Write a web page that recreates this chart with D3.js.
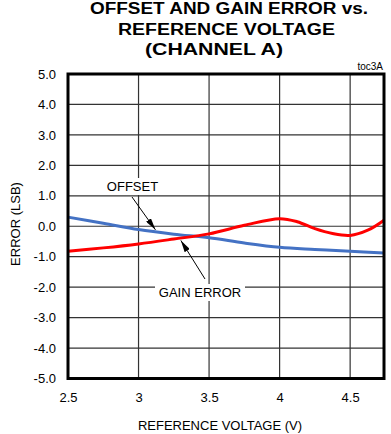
<!DOCTYPE html>
<html><head><meta charset="utf-8">
<script src="https://cdn.jsdelivr.net/npm/d3@7"></script>
<style>
html,body{margin:0;padding:0;background:#fff;}
svg{display:block;}
text{font-family:"Liberation Sans",Arial,sans-serif;fill:#000;}
</style></head>
<body><svg id="c" width="391" height="434"></svg>
<script>
const titleLines = ["OFFSET AND GAIN ERROR vs.", "REFERENCE VOLTAGE", "(CHANNEL A)"];
const xLabel = "REFERENCE VOLTAGE (V)";
const yLabel = "ERROR (LSB)";
const tag = "toc3A";
const xTicks = [2.5, 3, 3.5, 4, 4.5];
const yTicks = [-5, -4, -3, -2, -1, 0, 1, 2, 3, 4, 5];
const offsetV = [2.5, 2.75, 3.0, 3.25, 3.5, 3.75, 4.0, 4.25, 4.5, 4.74];
const offsetE = [0.30, 0.10, -0.11, -0.26, -0.38, -0.55, -0.69, -0.76, -0.82, -0.88];
const gainV = [2.5, 2.75, 3.0, 3.25, 3.5, 3.75, 4.0, 4.125, 4.25, 4.375, 4.5, 4.625, 4.74];
const gainE = [-0.82, -0.71, -0.58, -0.42, -0.25, 0.03, 0.25, 0.15, -0.08, -0.24, -0.30, -0.13, 0.20];

const svg = d3.select("#c");
const L = 68, R = 384, T = 74, B = 378.5;
const x = d3.scaleLinear().domain([2.5, 4.74]).range([L, R]);
const y = d3.scaleLinear().domain([-5, 5]).range([B, T]);

// title (horizontally stretched as in the reference)
const titleX = [90, 118, 145], titleW = [278, 217, 138];
svg.append("g").selectAll("text").data(titleLines).join("text")
  .attr("x", (d,i) => titleX[i])
  .attr("y", (d,i) => 14 + i*20.7)
  .attr("text-anchor", "start")
  .attr("font-weight", "bold").attr("font-size", "16px")
  .attr("textLength", (d,i) => titleW[i]).attr("lengthAdjust", "spacingAndGlyphs")
  .text(d => d);

// grid
const g = svg.append("g");
g.selectAll("line.h").data(yTicks.filter(d => d > -5 && d < 5)).join("line")
  .attr("x1", L).attr("x2", R).attr("y1", d => y(d)).attr("y2", d => y(d))
  .attr("stroke", "#333").attr("stroke-width", 1.2);
g.selectAll("line.v").data(xTicks.filter(d => d > 2.5)).join("line")
  .attr("y1", T).attr("y2", B).attr("x1", d => x(d)).attr("x2", d => x(d))
  .attr("stroke", "#333").attr("stroke-width", 1.2);

const fmtY = d => d3.format(".1f")(d).replace("\u2212", "-");
const yAxis = svg.append("g").attr("transform", `translate(${L},0)`)
  .call(d3.axisLeft(y).tickValues(yTicks).tickFormat(fmtY).tickSize(0).tickPadding(12));
yAxis.select(".domain").remove();
yAxis.selectAll("text").attr("font-size", "13px").attr("font-family", "Liberation Sans, Arial, sans-serif");
const xAxis = svg.append("g").attr("transform", `translate(0,${B})`)
  .call(d3.axisBottom(x).tickValues(xTicks).tickFormat(d => d).tickSize(0).tickPadding(14));
xAxis.select(".domain").remove();
xAxis.selectAll("text").attr("font-size", "13px").attr("font-family", "Liberation Sans, Arial, sans-serif");

svg.append("text").attr("x", 220).attr("y", 430).attr("text-anchor", "middle")
  .attr("font-size", "13px").text(xLabel);
svg.append("text").attr("transform", "translate(20,224) rotate(-90)").attr("text-anchor", "middle")
  .attr("font-size", "13px").text(yLabel);
svg.append("text").attr("x", 383).attr("y", 70).attr("text-anchor", "end")
  .attr("font-size", "10px").text(tag);

// curves
const line = d3.line().x(d => x(d[0])).y(d => y(d[1])).curve(d3.curveCatmullRom.alpha(0.5));
svg.append("path").datum(offsetV.map((v,i) => [v, offsetE[i]]))
  .attr("d", line).attr("fill", "none").attr("stroke", "#4472c4").attr("stroke-width", 3);
svg.append("path").datum(gainV.map((v,i) => [v, gainE[i]]))
  .attr("d", line).attr("fill", "none").attr("stroke", "#ff0000").attr("stroke-width", 3);

// annotations
svg.append("defs").append("marker").attr("id", "ah")
  .attr("viewBox", "0 0 12 6").attr("refX", 12).attr("refY", 3)
  .attr("markerWidth", 12).attr("markerHeight", 6).attr("markerUnits", "userSpaceOnUse")
  .attr("orient", "auto")
  .append("path").attr("d", "M0,0 L12,3 L0,6 Z").attr("fill", "#000");

function label(txt, tx, ty, w) {
  svg.append("rect").attr("x", tx - w/2 - 4).attr("y", ty - 13).attr("width", w + 8).attr("height", 17).attr("fill", "#fff");
  svg.append("text").attr("x", tx).attr("y", ty).attr("text-anchor", "middle").attr("font-size", "13px").text(txt);
}
label("OFFSET", 132.5, 191, 51);
label("GAIN ERROR", 200, 297, 82);
svg.append("line").attr("x1", 132).attr("y1", 197).attr("x2", x(3.12)).attr("y2", y(-0.15) - 1)
  .attr("stroke", "#000").attr("stroke-width", 1).attr("marker-end", "url(#ah)");
svg.append("line").attr("x1", 205).attr("y1", 279).attr("x2", x(3.3)).attr("y2", y(-0.4) + 2)
  .attr("stroke", "#000").attr("stroke-width", 1).attr("marker-end", "url(#ah)");

// frame
svg.append("rect").attr("x", L).attr("y", T).attr("width", R - L).attr("height", B - T)
  .attr("fill", "none").attr("stroke", "#000").attr("stroke-width", 3);
</script></body></html>
